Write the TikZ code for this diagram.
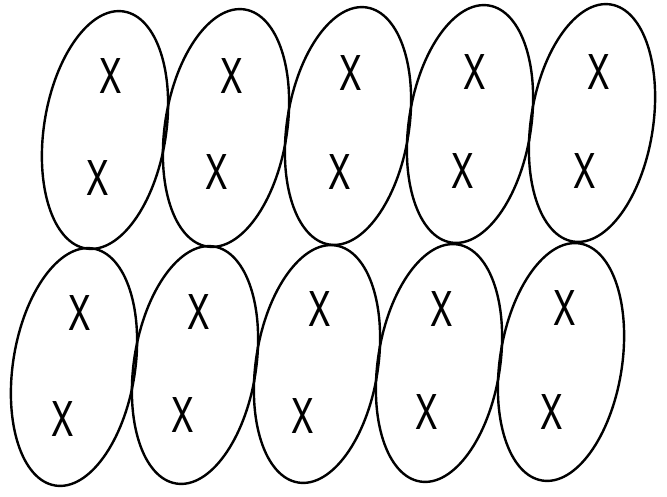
\documentclass[tikz,border=0pt]{standalone}
\usepackage{fontspec}
\setsansfont{TeX Gyre Heros}
\usetikzlibrary{shapes.geometric}

\tikzset{
  cell/.style={draw, ellipse, line width=2.4pt, minimum width=122pt, minimum height=240pt, inner sep=0pt, rotate=-9},
  site/.style={inner sep=0pt, font=\sffamily\fontsize{48}{48}\selectfont, xscale=0.7}
}

\begin{document}
\begin{tikzpicture}[x=1pt,y=-1pt]
\useasboundingbox (0,0) rectangle (667,496);

% upper row of cells
\node[cell] (c1) at (105,130) {};
\node[cell] (c2) at (226,128) {};
\node[cell] (c3) at (348,126) {};
\node[cell] (c4) at (470,124) {};
\node[cell] (c5) at (592,123) {};

% lower row of cells
\node[cell] (c6) at (74,367) {};
\node[cell] (c7) at (195,365) {};
\node[cell] (c8) at (317,364) {};
\node[cell] (c9) at (439,363) {};
\node[cell] (c10) at (561,362) {};

% sites, upper row
\node[site] (s1a) at (111,76) {X};
\node[site] (s1b) at (98,178) {X};
\node[site] (s2a) at (232,76) {X};
\node[site] (s2b) at (217,172) {X};
\node[site] (s3a) at (351,73) {X};
\node[site] (s3b) at (340,172) {X};
\node[site] (s4a) at (475,72) {X};
\node[site] (s4b) at (463,171) {X};
\node[site] (s5a) at (599,72) {X};
\node[site] (s5b) at (585,171) {X};

% sites, lower row
\node[site] (s6a) at (80,313) {X};
\node[site] (s6b) at (63,419) {X};
\node[site] (s7a) at (199,312) {X};
\node[site] (s7b) at (183,415) {X};
\node[site] (s8a) at (320,309) {X};
\node[site] (s8b) at (303,416) {X};
\node[site] (s9a) at (442,309) {X};
\node[site] (s9b) at (427,412) {X};
\node[site] (s10a) at (565,308) {X};
\node[site] (s10b) at (552,412) {X};

\end{tikzpicture}
\end{document}
